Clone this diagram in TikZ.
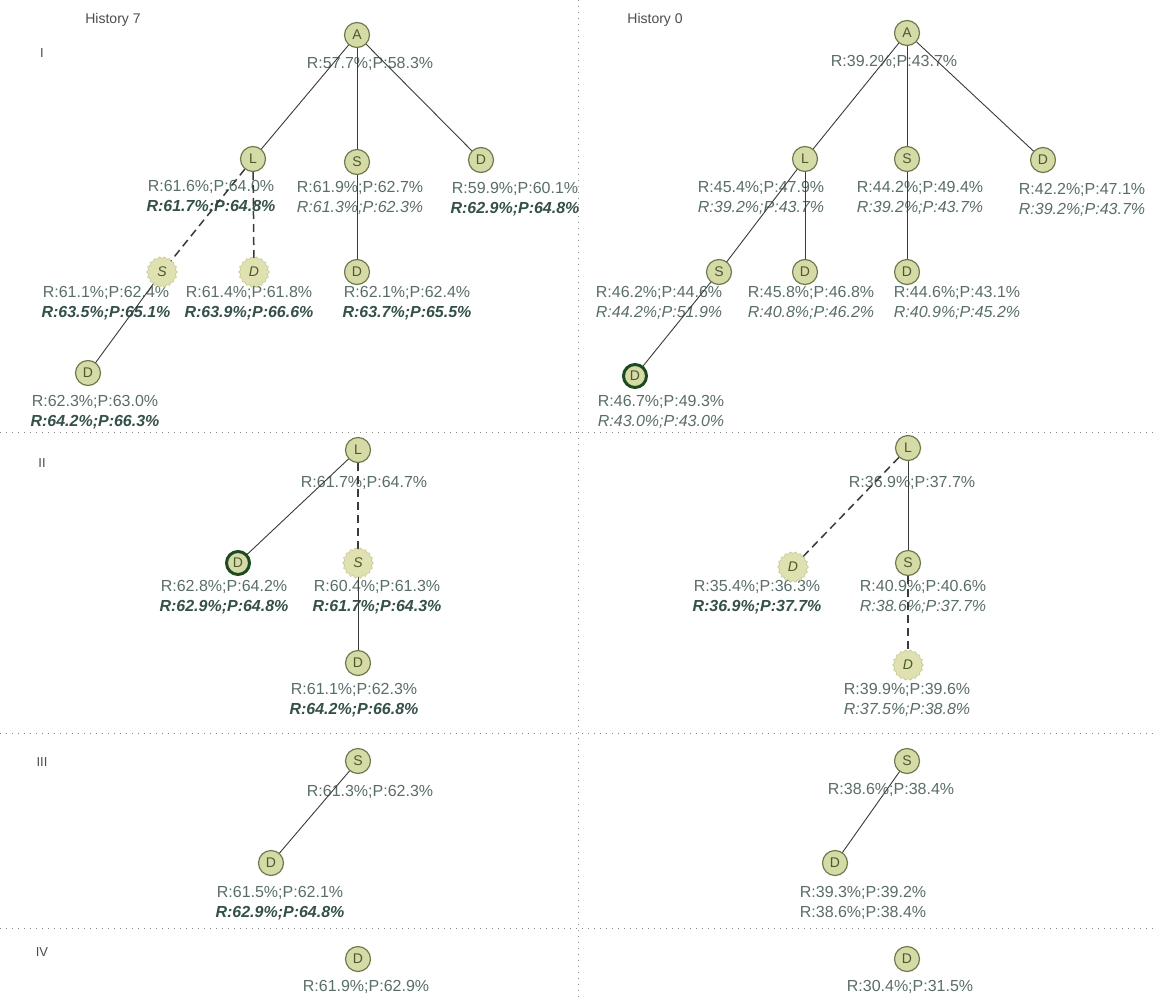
\documentclass[tikz,border=0pt]{standalone}
\usepackage{fontspec}
\setmainfont{Liberation Sans}
\usetikzlibrary{shapes.geometric}
\definecolor{nodefill}{HTML}{D6DAA6}
\definecolor{nodeedge}{HTML}{6E7B4C}
\definecolor{nodetext}{HTML}{4A5A2C}
\definecolor{boldedge}{HTML}{1E4A22}
\definecolor{starfill}{HTML}{DFE1B0}
\definecolor{staredge}{HTML}{C8CA92}
\definecolor{labcol}{HTML}{5A6E69}
\definecolor{labdark}{HTML}{34504A}
\definecolor{edgecol}{HTML}{3A3A3A}
\definecolor{sepcol}{HTML}{8A8A8A}
\newcommand{\bitx}[1]{{\color{labdark}\bfseries\itshape #1}}
\newcommand{\ittx}[1]{{\itshape #1}}
\tikzset{
  nd/.style={circle, minimum size=25pt, inner sep=0pt, fill=nodefill, draw=nodeedge, line width=1.2pt, text=nodetext, font=\fontsize{14}{14}\selectfont},
  bnd/.style={nd, draw=boldedge, line width=3pt, minimum size=23pt},
  snd/.style={star, star points=18, star point ratio=0.88, minimum size=27pt, inner sep=0pt, fill=starfill, draw=staredge, line width=0.6pt, text=nodetext, font=\fontsize{14}{14}\selectfont\itshape},
  lbl/.style={text=labcol, align=center, inner sep=0pt, font=\fontsize{16}{20}\selectfont},
  edge/.style={draw=edgecol, line width=0.9pt},
  dedge/.style={draw=edgecol, line width=1.5pt, dash pattern=on 8pt off 5pt},
  sep/.style={draw=sepcol, line width=1pt, dash pattern=on 1pt off 5pt},
  sec/.style={text=black!70, inner sep=0pt, font=\fontsize{13}{13}\selectfont},
}
\begin{document}
\begin{tikzpicture}[x=1pt, y=-1pt]
\useasboundingbox (0,0) rectangle (1153,998);
\fill[white] (0,0) rectangle (1153,998);
% separators
\draw[sep] (578,0) -- (578,998);
\draw[sep] (0,432) -- (1153,432);
\draw[sep] (0,733) -- (1153,733);
\draw[sep] (0,928) -- (1153,928);
% headings
\node[sec, font=\fontsize{14}{14}\selectfont] (h7) at (113,20) {History 7};
\node[sec, font=\fontsize{14}{14}\selectfont] (h0) at (655,20) {History 0};
\node[sec] (s1) at (42,53) {I};
\node[sec] (s2) at (42,463) {II};
\node[sec] (s3) at (42,762) {III};
\node[sec] (s4) at (42,952) {IV};

% ---------------- Left I ----------------
\node[lbl] (lAl) at (370,64) {R:57.7\%;P:58.3\%};
\node[lbl] (lLl) at (211,197.5) {R:61.6\%;P:64.0\%\\\bitx{R:61.7\%;P:64.8\%}};
\node[lbl] (lSl) at (360,197.5) {R:61.9\%;P:62.7\%\\\ittx{R:61.3\%;P:62.3\%}};
\node[lbl] (lDl) at (515,199.5) {R:59.9\%;P:60.1\%\\\bitx{R:62.9\%;P:64.8\%}};
\node[lbl] (lSsl) at (106,303) {R:61.1\%;P:62.4\%\\\bitx{R:63.5\%;P:65.1\%}};
\node[lbl] (lDsl) at (249,303) {R:61.4\%;P:61.8\%\\\bitx{R:63.9\%;P:66.6\%}};
\node[lbl] (lD2l) at (407,303) {R:62.1\%;P:62.4\%\\\bitx{R:63.7\%;P:65.5\%}};
\node[lbl] (lD3l) at (95,412) {R:62.3\%;P:63.0\%\\\bitx{R:64.2\%;P:66.3\%}};
\coordinate (lAc) at (357,35);
\coordinate (lLc) at (253,159);
\coordinate (lSc) at (357,162);
\coordinate (lDc) at (481,160);
\coordinate (lSsc) at (162,272);
\coordinate (lDsc) at (254,272);
\coordinate (lD2c) at (357,272);
\coordinate (lD3c) at (88,373);
\draw[edge] (lAc) -- (lLc);
\draw[edge] (lAc) -- (lSc);
\draw[edge] (lAc) -- (lDc);
\draw[dedge] (lLc) -- (lSsc);
\draw[dedge] (lLc) -- (lDsc);
\draw[edge] (lSc) -- (lD2c);
\draw[edge] (lSsc) -- (lD3c);
\node[nd] (lA) at (lAc) {A};
\node[nd] (lL) at (lLc) {L};
\node[nd] (lS) at (lSc) {S};
\node[nd] (lD) at (lDc) {D};
\node[snd] (lSs) at (lSsc) {S};
\node[snd] (lDs) at (lDsc) {D};
\node[nd] (lD2) at (lD2c) {D};
\node[nd] (lD3) at (lD3c) {D};

% ---------------- Right I ----------------
\node[lbl] (rAl) at (894,62) {R:39.2\%;P:43.7\%};
\node[lbl] (rLl) at (761,197.5) {R:45.4\%;P:47.9\%\\\ittx{R:39.2\%;P:43.7\%}};
\node[lbl] (rSl) at (920,197.5) {R:44.2\%;P:49.4\%\\\ittx{R:39.2\%;P:43.7\%}};
\node[lbl] (rDl) at (1082,199.5) {R:42.2\%;P:47.1\%\\\ittx{R:39.2\%;P:43.7\%}};
\node[lbl] (rS2l) at (659,303) {R:46.2\%;P:44.6\%\\\ittx{R:44.2\%;P:51.9\%}};
\node[lbl] (rD2l) at (811,303) {R:45.8\%;P:46.8\%\\\ittx{R:40.8\%;P:46.2\%}};
\node[lbl] (rD3l) at (957,303) {R:44.6\%;P:43.1\%\\\ittx{R:40.9\%;P:45.2\%}};
\node[lbl] (rDbl) at (661,412) {R:46.7\%;P:49.3\%\\\ittx{R:43.0\%;P:43.0\%}};
\coordinate (rAc) at (907,33);
\coordinate (rLc) at (805,159);
\coordinate (rSc) at (907,159);
\coordinate (rDc) at (1043,160);
\coordinate (rS2c) at (719,272);
\coordinate (rD2c) at (805,272);
\coordinate (rD3c) at (907,272);
\coordinate (rDbc) at (635,376);
\draw[edge] (rAc) -- (rLc);
\draw[edge] (rAc) -- (rSc);
\draw[edge] (rAc) -- (rDc);
\draw[edge] (rLc) -- (rS2c);
\draw[edge] (rLc) -- (rD2c);
\draw[edge] (rSc) -- (rD3c);
\draw[edge] (rS2c) -- (rDbc);
\node[nd] (rA) at (rAc) {A};
\node[nd] (rL) at (rLc) {L};
\node[nd] (rS) at (rSc) {S};
\node[nd] (rD) at (rDc) {D};
\node[nd] (rS2) at (rS2c) {S};
\node[nd] (rD2) at (rD2c) {D};
\node[nd] (rD3) at (rD3c) {D};
\node[bnd] (rDb) at (rDbc) {D};

% ---------------- Left II ----------------
\node[lbl] (mLl) at (364,483) {R:61.7\%;P:64.7\%};
\node[lbl] (mDbl) at (224,597) {R:62.8\%;P:64.2\%\\\bitx{R:62.9\%;P:64.8\%}};
\node[lbl] (mSsl) at (377,597) {R:60.4\%;P:61.3\%\\\bitx{R:61.7\%;P:64.3\%}};
\node[lbl] (mDl) at (354,700) {R:61.1\%;P:62.3\%\\\bitx{R:64.2\%;P:66.8\%}};
\coordinate (mLc) at (358,450);
\coordinate (mDbc) at (238,563);
\coordinate (mSsc) at (358,563);
\coordinate (mDc) at (358,663);
\draw[edge] (mLc) -- (mDbc);
\draw[dedge] (mLc) -- (mSsc);
\draw[edge] (mSsc) -- (mDc);
\node[nd] (mL) at (mLc) {L};
\node[bnd] (mDb) at (mDbc) {D};
\node[snd] (mSs) at (mSsc) {S};
\node[nd] (mD) at (mDc) {D};

% ---------------- Right II ----------------
\node[lbl] (nLl) at (912,483) {R:36.9\%;P:37.7\%};
\node[lbl] (nDsl) at (757,597) {R:35.4\%;P:36.3\%\\\bitx{R:36.9\%;P:37.7\%}};
\node[lbl] (nSl) at (923,597) {R:40.9\%;P:40.6\%\\\ittx{R:38.6\%;P:37.7\%}};
\node[lbl] (nDs2l) at (907,700) {R:39.9\%;P:39.6\%\\\ittx{R:37.5\%;P:38.8\%}};
\coordinate (nLc) at (908,448);
\coordinate (nDsc) at (793,567);
\coordinate (nSc) at (908,563);
\coordinate (nDs2c) at (908,665);
\draw[dedge] (nLc) -- (nDsc);
\draw[edge] (nLc) -- (nSc);
\draw[dedge] (nSc) -- (nDs2c);
\node[nd] (nL) at (nLc) {L};
\node[snd] (nDs) at (nDsc) {D};
\node[nd] (nS) at (nSc) {S};
\node[snd] (nDs2) at (nDs2c) {D};

% ---------------- III ----------------
\node[lbl] (tSl) at (370,792) {R:61.3\%;P:62.3\%};
\node[lbl] (tDl) at (280,903) {R:61.5\%;P:62.1\%\\\bitx{R:62.9\%;P:64.8\%}};
\coordinate (tSc) at (358,761);
\coordinate (tDc) at (271,863);
\draw[edge] (tSc) -- (tDc);
\node[nd] (tS) at (tSc) {S};
\node[nd] (tD) at (tDc) {D};
\node[lbl] (uSl) at (891,790) {R:38.6\%;P:38.4\%};
\node[lbl] (uDl) at (863,903) {R:39.3\%;P:39.2\%\\R:38.6\%;P:38.4\%};
\coordinate (uSc) at (907,761);
\coordinate (uDc) at (835,863);
\draw[edge] (uSc) -- (uDc);
\node[nd] (uS) at (uSc) {S};
\node[nd] (uD) at (uDc) {D};

% ---------------- IV ----------------
\node[nd] (vD) at (358,959) {D};
\node[lbl] (vDl) at (366,987) {R:61.9\%;P:62.9\%};
\node[nd] (wD) at (907,959) {D};
\node[lbl] (wDl) at (910,987) {R:30.4\%;P:31.5\%};
\end{tikzpicture}
\end{document}
